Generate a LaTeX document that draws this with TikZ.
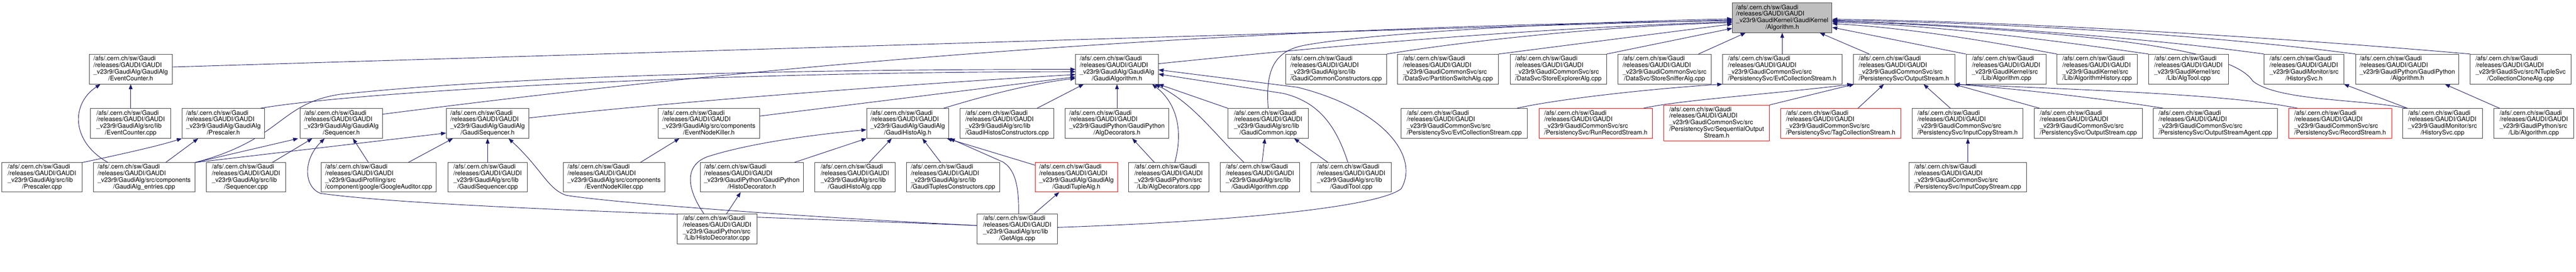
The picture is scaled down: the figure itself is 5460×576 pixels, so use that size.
\documentclass[tikz,border=0pt]{standalone}
\usepackage{fontspec}
\setmainfont{TeX Gyre Heros}
\usetikzlibrary{arrows.meta,calc,backgrounds}
\definecolor{edgec}{HTML}{191970}
\definecolor{boxc}{HTML}{404040}
\definecolor{rootc}{HTML}{BFBFBF}
\newcommand{\lab}[2]{\begin{tabular}{@{}l@{}}/afs/.cern.ch/sw/Gaudi\\/releases/GAUDI/GAUDI\\\_v23r9/#1\\\multicolumn{1}{@{}c@{}}{#2}\end{tabular}}
\newcommand{\labv}[3]{\begin{tabular}{@{}l@{}}/afs/.cern.ch/sw/Gaudi\\/releases/GAUDI/GAUDI\\\_v23r9/#1\\#2\\\multicolumn{1}{@{}c@{}}{#3}\end{tabular}}
\begin{document}
\begin{tikzpicture}[x=0.75pt,y=-0.75pt,
  font=\fontsize{10}{10}\selectfont,
  box/.style={draw=boxc, line width=0.75pt, inner sep=0pt, minimum height=63*0.75pt, text=black, fill=white},
  redbox/.style={box, draw=red},
  bw/.style={minimum width=#1*0.75pt},
  bh/.style={minimum height=#1*0.75pt},
  edg/.style={draw=edgec, line width=0.75pt, -{Triangle[length=8pt,width=6pt]}}]
\useasboundingbox (0,0) rectangle (5460,576);
% root
\node[box,bw=211,fill=rootc] (root) at (3777.5,37.5) {\lab{GaudiKernel/GaudiKernel}{/Algorithm.h}};
% row 1
\node[box,bw=176] (ech) at (277,146.5) {\lab{GaudiAlg/GaudiAlg}{/EventCounter.h}};
\node[box,bw=175] (gah) at (2367.5,146.5) {\lab{GaudiAlg/GaudiAlg}{/GaudiAlgorithm.h}};
\node[box,bw=214] (gcc) at (2832,146.5) {\lab{GaudiAlg/src/lib}{/GaudiCommonConstructors.cpp}};
\node[box,bw=214] (psa) at (3069,146.5) {\lab{GaudiCommonSvc/src}{/DataSvc/PartitionSwitchAlg.cpp}};
\node[box,bw=204] (sea) at (3303,146.5) {\lab{GaudiCommonSvc/src}{/DataSvc/StoreExplorerAlg.cpp}};
\node[box,bw=198] (ssa) at (3528,146.5) {\lab{GaudiCommonSvc/src}{/DataSvc/StoreSnifferAlg.cpp}};
\node[box,bw=253] (ecsh) at (3777.5,146.5) {\lab{GaudiCommonSvc/src}{/PersistencySvc/EvtCollectionStream.h}};
\node[box,bw=215] (osh) at (4035.5,146.5) {\lab{GaudiCommonSvc/src}{/PersistencySvc/OutputStream.h}};
\node[box,bw=170] (algcpp) at (4252,146.5) {\lab{GaudiKernel/src}{/Lib/Algorithm.cpp}};
\node[box,bw=170] (ahcpp) at (4445,146.5) {\lab{GaudiKernel/src}{/Lib/AlgorithmHistory.cpp}};
\node[box,bw=169] (atcpp) at (4638.5,146.5) {\lab{GaudiKernel/src}{/Lib/AlgTool.cpp}};
\node[box,bw=169] (hsh) at (4883.5,146.5) {\lab{GaudiMonitor/src}{/HistorySvc.h}};
\node[box,bw=219] (gpah) at (5102.5,146.5) {\lab{GaudiPython/GaudiPython}{/Algorithm.h}};
\node[box,bw=213] (cca) at (5342.5,146.5) {\lab{GaudiSvc/src/NTupleSvc}{/CollectionCloneAlg.cpp}};
% row 2
\node[box,bw=170] (eccpp) at (277,261.5) {\lab{GaudiAlg/src/lib}{/EventCounter.cpp}};
\node[box,bw=175] (psh) at (473.5,261.5) {\lab{GaudiAlg/GaudiAlg}{/Prescaler.h}};
\node[box,bw=175] (seqh) at (723.5,261.5) {\lab{GaudiAlg/GaudiAlg}{/Sequencer.h}};
\node[box,bw=175] (gsh) at (1033.5,261.5) {\lab{GaudiAlg/GaudiAlg}{/GaudiSequencer.h}};
\node[box,bw=215] (enkh) at (1502.5,261.5) {\lab{GaudiAlg/src/components}{/EventNodeKiller.h}};
\node[box,bw=174] (ghah) at (1924,261.5) {\lab{GaudiAlg/GaudiAlg}{/GaudiHistoAlg.h}};
\node[box,bw=199] (ghcc) at (2134.5,261.5) {\lab{GaudiAlg/src/lib}{/GaudiHistosConstructors.cpp}};
\node[box,bw=219] (adh) at (2367.5,261.5) {\lab{GaudiPython/GaudiPython}{/AlgDecorators.h}};
\node[box,bw=170] (gci) at (2688,261.5) {\lab{GaudiAlg/src/lib}{/GaudiCommon.icpp}};
\node[box,bw=267] (ecscpp) at (3103.5,261.5) {\lab{GaudiCommonSvc/src}{/PersistencySvc/EvtCollectionStream.cpp}};
\node[redbox,bw=241] (rrsh) at (3382.5,261.5) {\lab{GaudiCommonSvc/src}{/PersistencySvc/RunRecordStream.h}};
\node[redbox,bw=223,bh=76] (sosh) at (3638.5,261) {\labv{GaudiCommonSvc/src}{/PersistencySvc/SequentialOutput}{Stream.h}};
\node[redbox,bw=255] (tcsh) at (3901.5,261.5) {\lab{GaudiCommonSvc/src}{/PersistencySvc/TagCollectionStream.h}};
\node[box,bw=235] (icsh) at (4170.5,261.5) {\lab{GaudiCommonSvc/src}{/PersistencySvc/InputCopyStream.h}};
\node[box,bw=229] (oscpp) at (4426.5,261.5) {\lab{GaudiCommonSvc/src}{/PersistencySvc/OutputStream.cpp}};
\node[box,bw=263] (osacpp) at (4695.5,261.5) {\lab{GaudiCommonSvc/src}{/PersistencySvc/OutputStreamAgent.cpp}};
\node[redbox,bw=218] (rsh) at (4960,261.5) {\lab{GaudiCommonSvc/src}{/PersistencySvc/RecordStream.h}};
\node[box,bw=170] (hscpp) at (5177,261.5) {\lab{GaudiMonitor/src}{/HistorySvc.cpp}};
\node[box,bw=169] (gpacpp) at (5370.5,261.5) {\lab{GaudiPython/src}{/Lib/Algorithm.cpp}};
% row 3
\node[box,bw=170,bh=62] (pscpp) at (89,376) {\lab{GaudiAlg/src/lib}{/Prescaler.cpp}};
\node[box,bw=215,bh=62] (gaent) at (305.5,376) {\lab{GaudiAlg/src/components}{/GaudiAlg\_entries.cpp}};
\node[box,bw=169,bh=62] (seqcpp) at (521.5,376) {\lab{GaudiAlg/src/lib}{/Sequencer.cpp}};
\node[box,bw=243,bh=62] (goog) at (802.5,376) {\lab{GaudiProfiling/src}{/component/google/GoogleAuditor.cpp}};
\node[box,bw=169,bh=62] (gscpp) at (1033.5,376) {\lab{GaudiAlg/src/lib}{/GaudiSequencer.cpp}};
\node[box,bw=215,bh=62] (enkcpp) at (1301.5,376) {\lab{GaudiAlg/src/components}{/EventNodeKiller.cpp}};
\node[box,bw=219,bh=62] (hdh) at (1593.5,376) {\lab{GaudiPython/GaudiPython}{/HistoDecorator.h}};
\node[box,bw=170,bh=62] (ghacpp) at (1812,376) {\lab{GaudiAlg/src/lib}{/GaudiHistoAlg.cpp}};
\node[box,bw=198,bh=62] (gtcc) at (2020,376) {\lab{GaudiAlg/src/lib}{/GaudiTuplesConstructors.cpp}};
\node[redbox,bw=175,bh=62] (gtah) at (2281.5,376) {\lab{GaudiAlg/GaudiAlg}{/GaudiTupleAlg.h}};
\node[box,bw=170,bh=62] (adcpp) at (2477,376) {\lab{GaudiPython/src}{/Lib/AlgDecorators.cpp}};
\node[box,bw=169,bh=62] (galgcpp) at (2670.5,376) {\lab{GaudiAlg/src/lib}{/GaudiAlgorithm.cpp}};
\node[box,bw=170,bh=62] (gtcpp) at (2864,376) {\lab{GaudiAlg/src/lib}{/GaudiTool.cpp}};
\node[box,bw=249,bh=62] (iccpp) at (4170.5,376) {\lab{GaudiCommonSvc/src}{/PersistencySvc/InputCopyStream.cpp}};
% row 4
\node[box,bw=170] (hdcpp) at (1520,485) {\lab{GaudiPython/src}{/Lib/HistoDecorator.cpp}};
\node[box,bw=170] (getalgs) at (2156,485) {\lab{GaudiAlg/src/lib}{/GetAlgs.cpp}};

\begin{scope}[on background layer]
\fill[white] (0,0) rectangle (5460,576);
% ---- into root, left side
\draw[edg] (ech.east |- 0,142) -- (root.west |- 0,42);
\draw[edg] (seqh.east |- 0,242) .. controls (1300,180) and (2300,60) .. (root.west |- 0,44);
\draw[edg] (gah.east |- 0,135) .. controls (2800,100) and (3200,62) .. (root.west |- 0,46);
\draw[edg] (gci.north) .. controls (2682,150) and (2700,110) .. (2760,97) .. controls (2850,78) and (3200,50) .. (root.west |- 0,40);
\draw[edg] (gcc.north east) .. controls (3100,88) and (3400,55) .. (root.west |- 0,48);
\draw[edg] (psa.north east) -- (root.west |- 0,51);
\draw[edg] (sea.north east) -- (root.west |- 0,60);
\draw[edg] (ssa.north -| 3600,0) -- (root.south -| 3700,0);
\draw[edg] (ecsh.north) -- (root.south);
\draw[edg] (osh.north -| 3962,0) -- (root.south -| 3857,0);
% ---- into root, right side
\draw[edg] (algcpp.north west) -- (root.east |- 0,58);
\draw[edg] (ahcpp.north west) .. controls (4200,85) and (4050,60) .. (root.east |- 0,50);
\draw[edg] (atcpp.north west) .. controls (4350,85) and (4100,53) .. (root.east |- 0,47);
\draw[edg] (hsh.north west) .. controls (4550,80) and (4150,50) .. (root.east |- 0,45);
\draw[edg] (gpah.north west) .. controls (4650,70) and (4200,47) .. (root.east |- 0,43);
\draw[edg] (cca.north west) .. controls (4900,85) and (4300,45) .. (root.east |- 0,41);
\draw[edg] (hscpp.north -| 5100,0) .. controls (5010,210) and (4830,215) .. (4775,172) .. controls (4735,110) and (4500,70) .. (root.east |- 0,44);
% ---- stream headers
\draw[edg] (ecscpp.north -| 3215,0) .. controls (3300,210) and (3500,188) .. (ecsh.south west);
\draw[edg] (rrsh.north -| 3483,0) .. controls (3560,212) and (3750,200) .. (osh.south -| 3926,0);
\draw[edg] (sosh.north east) -- (osh.south -| 3930,0);
\draw[edg] (tcsh.north -| 3938,0) -- (osh.south -| 3993,0);
\draw[edg] (icsh.north -| 4134,0) -- (osh.south -| 4077,0);
\draw[edg] (oscpp.north -| 4323,0) -- (osh.south -| 4141,0);
\draw[edg] (osacpp.north -| 4585,0) .. controls (4500,215) and (4300,190) .. (osh.south -| 4143,0);
\draw[edg] (rsh.north -| 4870,0) .. controls (4750,205) and (4550,195) .. (osh.south -| 4143,0);
\draw[edg] (iccpp.north -| 4171,0) -- (icsh.south -| 4171,0);
\draw[edg] (hscpp.north -| 5103,0) -- (hsh.south -| 4968,0);
\draw[edg] (gpacpp.north -| 5298,0) -- (gpah.south -| 5182,0);
% ---- left part
\draw[edg] (eccpp.north) -- (ech.south);
\draw[edg] (gaent.north -| 229,0) .. controls (150,300) and (150,220) .. (ech.south -| 213,0);
\draw[edg] (gaent.north -| 351,0) -- (psh.south -| 420,0);
\draw[edg] (pscpp.north east) .. controls (280,322) and (340,308) .. (psh.south west);
\draw[edg] (gaent.north east) .. controls (600,295) and (590,220) .. (720,200) .. controls (1100,160) and (1700,147) .. (gah.west |- 0,147);
\draw[edg] (gaent.north east) -- (seqh.south -| 632,0);
\draw[edg] (gaent.north east) -- (gsh.west |- 0,282);
\draw[edg] (psh.north -| 552,0) .. controls (750,195) and (1500,152) .. (gah.west |- 0,152);
\draw[edg] (seqcpp.north -| 577,0) -- (seqh.south -| 662,0);
\draw[edg] (goog.north -| 781,0) -- (seqh.south -| 748,0);
\draw[edg] (goog.north -| 865,0) -- (gsh.south -| 960,0);
\draw[edg] (getalgs.west |- 0,478) .. controls (1500,455) and (900,440) .. (680,410) .. controls (645,398) and (640,340) .. (seqh.south -| 688,0);
\draw[edg] (getalgs.west |- 0,478) .. controls (1700,460) and (1300,430) .. (1200,414) .. controls (1160,400) and (1150,360) .. (gsh.south -| 1078,0);
\draw[edg] (gscpp.north) -- (gsh.south);
\draw[edg] (gsh.east |- 0,250) .. controls (1400,218) and (1900,180) .. (gah.west |- 0,158);
\draw[edg] (enkcpp.north -| 1357,0) -- (enkh.south -| 1440,0);
\draw[edg] (enkh.east |- 0,246) -- (gah.west |- 0,163);
\draw[edg] (hdcpp.north -| 1540,0) -- (hdh.south -| 1570,0);
\draw[edg] (hdcpp.north -| 1492,0) .. controls (1455,400) and (1450,350) .. (1500,332) .. controls (1600,300) and (1750,283) .. (ghah.west |- 0,275);
\draw[edg] (hdh.north -| 1683,0) -- (ghah.south west);
\draw[edg] (ghacpp.north -| 1842,0) -- (ghah.south -| 1890,0);
\draw[edg] (gtcc.north -| 1994,0) -- (ghah.south -| 1955,0);
\draw[edg] (gtah.west |- 0,350) -- (ghah.south -| 2007,0);
\draw[edg] (getalgs.north -| 2159,0) .. controls (2160,390) and (2150,358) .. (2125,343) -- (ghah.south -| 2013,0);
\draw[edg] (getalgs.north -| 2192,0) -- (gtah.south -| 2245,0);
\draw[edg] (ghah.north -| 2000,0) .. controls (2080,205) and (2180,178) .. (gah.west |- 0,166);
\draw[edg] (ghcc.north -| 2198,0) -- (gah.south -| 2297,0);
\draw[edg] (adh.north) -- (gah.south);
\draw[edg] (adcpp.north -| 2447,0) -- (adh.south -| 2400,0);
\draw[edg] (adcpp.north -| 2490,0) .. controls (2510,270) and (2490,215) .. (gah.south -| 2442,0);
\draw[edg] (galgcpp.north -| 2637,0) .. controls (2570,280) and (2530,220) .. (gah.south -| 2448,0);
\draw[edg] (galgcpp.north -| 2675,0) -- (gci.south -| 2681,0);
\draw[edg] (gci.north west) -- (gah.south east);
\draw[edg] (gtcpp.north -| 2815,0) -- (gci.south -| 2743,0);
\draw[edg] (gtcpp.north -| 2857,0) .. controls (2830,260) and (2790,215) .. (2720,198) -- (gah.east |- 0,157);
\draw[edg] (getalgs.east |- 0,482) .. controls (2600,470) and (2920,440) .. (2970,400) .. controls (3010,330) and (2930,230) .. (2750,185) -- (gah.east |- 0,148);
\end{scope}
\end{tikzpicture}
\end{document}
